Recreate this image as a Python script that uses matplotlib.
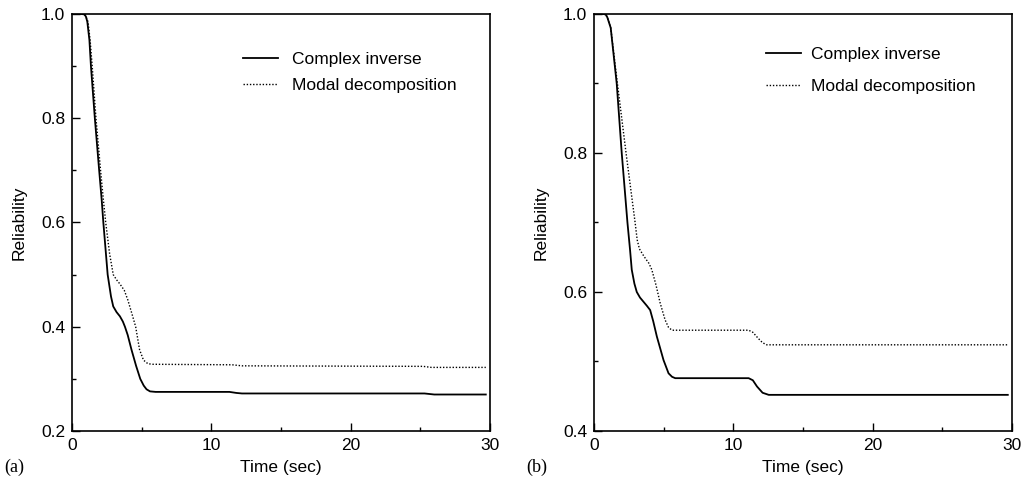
import matplotlib
matplotlib.use('Agg')
import matplotlib.pyplot as plt
from matplotlib.ticker import MultipleLocator, FormatStrFormatter

plt.rcParams['font.family'] = ['Liberation Sans', 'DejaVu Sans']
plt.rcParams['font.size'] = 12.5

# values read off the reference
# panel (a)
t_a_ci = [0, 0.7, 0.9, 1.0, 1.1, 1.25, 1.36, 1.64, 1.95, 2.13, 2.25, 2.56, 2.8, 2.96, 3.2, 3.44,
          3.65, 3.8, 4.0, 4.27, 4.6, 4.9, 5.15, 5.35, 5.6, 6.0, 11.3, 11.8, 12.2, 25.3, 26.0, 29.7]
r_a_ci = [1.0, 1.0, 0.999, 0.995, 0.985, 0.95, 0.9, 0.8, 0.7, 0.644, 0.6, 0.5, 0.458, 0.439, 0.428, 0.42,
          0.41, 0.4, 0.384, 0.356, 0.325, 0.3, 0.287, 0.28, 0.276, 0.275, 0.275, 0.273, 0.272, 0.272, 0.27, 0.27]
t_a_md = [0, 0.7, 0.9, 1.0, 1.15, 1.3, 1.45, 1.72, 2.05, 2.25, 2.42, 2.7, 2.96, 3.2, 3.44, 3.75,
          4.0, 4.3, 4.57, 4.85, 5.13, 5.45, 5.8, 11.5, 12.2, 25.2, 25.8, 29.7]
r_a_md = [1.0, 1.0, 0.999, 0.995, 0.985, 0.95, 0.9, 0.8, 0.7, 0.644, 0.6, 0.54, 0.5, 0.49, 0.482, 0.47,
          0.452, 0.425, 0.4, 0.356, 0.336, 0.329, 0.328, 0.327, 0.325, 0.324, 0.322, 0.322]

# panel (b)
t_b_ci = [0, 0.7, 0.85, 0.96, 1.2, 1.63, 1.99, 2.4, 2.59, 2.71, 2.9, 3.07, 3.3, 3.55, 3.8, 4.03,
          4.25, 4.51, 4.99, 5.35, 5.6, 5.83, 11.1, 11.4, 11.7, 12.1, 12.54, 29.7]
r_b_ci = [1.0, 1.0, 0.999, 0.995, 0.98, 0.9, 0.8, 0.7, 0.66, 0.632, 0.612, 0.6, 0.592, 0.586, 0.58, 0.574,
          0.558, 0.536, 0.502, 0.483, 0.478, 0.476, 0.476, 0.473, 0.464, 0.455, 0.452, 0.452]
t_b_md = [0, 0.7, 0.85, 0.96, 1.2, 1.68, 2.3, 2.95, 3.1, 3.26, 3.5, 3.7, 3.95, 4.15, 4.45, 4.75,
          5.1, 5.35, 5.6, 11.1, 11.4, 11.8, 12.1, 12.4, 29.7]
r_b_md = [1.0, 1.0, 0.999, 0.995, 0.98, 0.9, 0.8, 0.7, 0.675, 0.662, 0.654, 0.648, 0.641, 0.632, 0.61, 0.584,
          0.56, 0.549, 0.545, 0.545, 0.542, 0.533, 0.527, 0.524, 0.524]

panels = [
    ('(a)', t_a_ci, r_a_ci, t_a_md, r_a_md, (0.2, 1.0), 0.0699, (0.409, 0.91), 0.67, 0.85),
    ('(b)', t_b_ci, r_b_ci, t_b_md, r_b_md, (0.4, 1.0), 0.5767, (0.412, 0.92), 0.95, 0.6),
]

fig = plt.figure(figsize=(10.3, 4.87), dpi=100)

for tag, t1, r1, t2, r2, ylim, left, legpos, lsp, htp in panels:
    ax = fig.add_axes([left, 0.115, 0.4058, 0.8563])
    ax.plot(t1, r1, color='k', lw=1.3, label='Complex inverse')
    ax.plot(t2, r2, color='k', lw=1.0, linestyle=(0, (1, 1.3)), label='Modal decomposition')
    ax.set_xlim(0, 30)
    ax.set_ylim(ylim)
    ax.xaxis.set_major_locator(MultipleLocator(10))
    ax.xaxis.set_minor_locator(MultipleLocator(5))
    ax.yaxis.set_major_locator(MultipleLocator(0.2))
    ax.yaxis.set_minor_locator(MultipleLocator(0.1))
    ax.yaxis.set_major_formatter(FormatStrFormatter('%.1f'))
    ax.tick_params(which='both', direction='in', top=False, right=False, width=1.0)
    ax.tick_params(which='major', length=5.5, pad=5)
    ax.tick_params(which='minor', length=2.8)
    for s in ax.spines.values():
        s.set_linewidth(1.2)
    ax.set_xlabel('Time (sec)', labelpad=5)
    ax.set_ylabel('Reliability', labelpad=10)
    ax.legend(loc='upper left', bbox_to_anchor=legpos, frameon=False, borderpad=0,
              borderaxespad=0, handlelength=2.0, handletextpad=htp, labelspacing=lsp,
              fontsize=12.5)
    fig.text(left - 0.0655, 0.04, tag, family=['Liberation Serif', 'DejaVu Serif'],
             fontsize=13, va='center')

fig.savefig('out.png', dpi=100)
